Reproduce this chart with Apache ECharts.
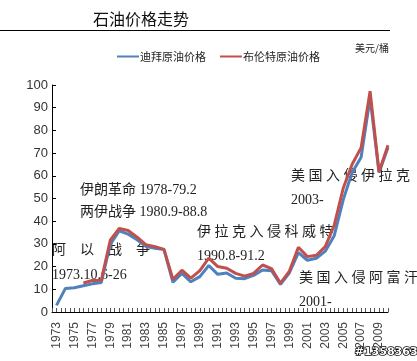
<!DOCTYPE html>
<html>
<head>
<meta charset="utf-8">
<script src="https://cdn.jsdelivr.net/npm/echarts@6/dist/echarts.min.js"></script>
<style>
html,body{margin:0;padding:0;background:#fff;}
#c{width:417px;height:361px;}
</style>
</head>
<body>
<div id="c"></div>
<script>
var years = [1973,1974,1975,1976,1977,1978,1979,1980,1981,1982,1983,1984,1985,1986,1987,1988,1989,1990,1991,1992,1993,1994,1995,1996,1997,1998,1999,2000,2001,2002,2003,2004,2005,2006,2007,2008,2009,2010];
var dubai = [2.9,10.4,10.7,11.6,12.4,13.0,29.8,35.7,34.3,31.8,28.8,28.1,27.5,13.1,17.0,13.3,15.6,20.5,16.6,17.2,14.9,14.7,16.1,18.5,18.2,12.2,17.3,26.2,22.8,23.7,26.8,33.6,49.4,61.5,68.2,94.3,61.4,72.5];
var brent = [null,null,null,12.8,13.9,14.0,31.6,36.8,35.9,33.0,29.6,28.8,27.6,14.4,18.4,14.9,18.2,23.7,20.0,19.3,17.0,15.8,17.0,20.7,19.1,12.7,18.0,28.5,24.4,25.0,28.8,38.3,54.5,65.1,72.4,97.3,61.7,73.5];
var seriesNames = ['迪拜原油价格','布伦特原油价格'];
var yTicks = {min:0, max:100, interval:10};

var serifFont = '"Liberation Serif","DejaVu Serif","Noto Sans CJK SC",serif';
var sansFont = '"Liberation Sans","Noto Sans CJK SC",sans-serif';
var cjkFont = '"Noto Sans CJK SC",sans-serif';

function pairs(arr){ return years.map(function(y,i){ return [y, arr[i]]; }); }

var chart = echarts.init(document.getElementById('c'), null, {renderer:'canvas'});
chart.setOption({
  animation:false,
  backgroundColor:'#fff',
  grid:{left:52, right:29, top:85, bottom:49, containLabel:false},
  legend:{
    left:112, top:46, itemWidth:22, itemHeight:2, itemGap:14,
    icon:'rect',
    textStyle:{fontSize:11, color:'#222', fontFamily:cjkFont, padding:[0,0,0,-4]},
    data:seriesNames
  },
  xAxis:{
    type:'value', min:1972.5, max:2010, interval:0.5,
    axisLine:{show:true, lineStyle:{color:'#000', width:1}},
    axisTick:{show:true, inside:true, length:4, lineStyle:{color:'#555'}},
    splitLine:{show:false},
    axisLabel:{
      rotate:90, fontSize:12, color:'#444', fontFamily:sansFont, margin:10,
      showMinLabel:true, showMaxLabel:true, hideOverlap:false,
      formatter:function(v){ return (Math.abs(v-Math.round(v))<1e-6 && Math.round(v)%2===1) ? String(Math.round(v)) : ''; }
    }
  },
  yAxis:{
    type:'value', min:yTicks.min, max:yTicks.max, interval:yTicks.interval,
    axisLine:{show:true, lineStyle:{color:'#000', width:1}},
    axisTick:{show:true, inside:true, length:4, lineStyle:{color:'#000'}},
    splitLine:{show:false},
    axisLabel:{fontSize:13, color:'#333', fontFamily:sansFont, margin:4}
  },
  series:[
    {name:seriesNames[0], type:'line', data:pairs(dubai), symbol:'none', connectNulls:false,
     lineStyle:{width:3, color:'#4F81BD'}, itemStyle:{color:'#4F81BD'}},
    {name:seriesNames[1], type:'line', data:pairs(brent), symbol:'none', connectNulls:false,
     lineStyle:{width:3, color:'#C0504D'}, itemStyle:{color:'#C0504D'}}
  ],
  graphic:[
    {type:'text', left:93, top:11, style:{text:'石油价格走势', font:'16px '+cjkFont, fill:'#111'}},
    {type:'line', shape:{x1:0,y1:30.5,x2:390,y2:30.5}, style:{stroke:'#000', lineWidth:1}},
    {type:'text', left:355, top:43, style:{text:'美元/桶', font:'10px '+cjkFont, fill:'#222'}},
    {type:'text', left:52, top:243, style:{text:'阿　以　战　争', font:'14px '+serifFont, fill:'#222'}},
    {type:'text', left:52, top:268, style:{text:'1973.10.6-26', font:'14px '+serifFont, fill:'#222'}},
    {type:'text', left:80, top:183, style:{text:'伊朗革命 1978-79.2', font:'14px '+serifFont, fill:'#222'}},
    {type:'text', left:80, top:205, style:{text:'两伊战争 1980.9-88.8', font:'14px '+serifFont, fill:'#222'}},
    {type:'text', left:197, top:225, style:{text:'伊 拉 克 入 侵 科 威 特', font:'14px '+serifFont, fill:'#222'}},
    {type:'text', left:197, top:249, style:{text:'1990.8-91.2', font:'14px '+serifFont, fill:'#222'}},
    {type:'text', left:291, top:169, style:{text:'美 国 入 侵 伊 拉 克', font:'14px '+serifFont, fill:'#222'}},
    {type:'text', left:291, top:193, style:{text:'2003-', font:'14px '+serifFont, fill:'#222'}},
    {type:'text', left:299, top:271, style:{text:'美 国 入 侵 阿 富 汗', font:'14px '+serifFont, fill:'#222'}},
    {type:'text', left:299, top:295, style:{text:'2001-', font:'14px '+serifFont, fill:'#222'}},
    {type:'text', left:354, top:346, style:{text:'#1358363', font:'bold 11px "DejaVu Sans",sans-serif', fill:'#fff', stroke:'#000', lineWidth:1.5}}
  ]
});
</script>
</body>
</html>
